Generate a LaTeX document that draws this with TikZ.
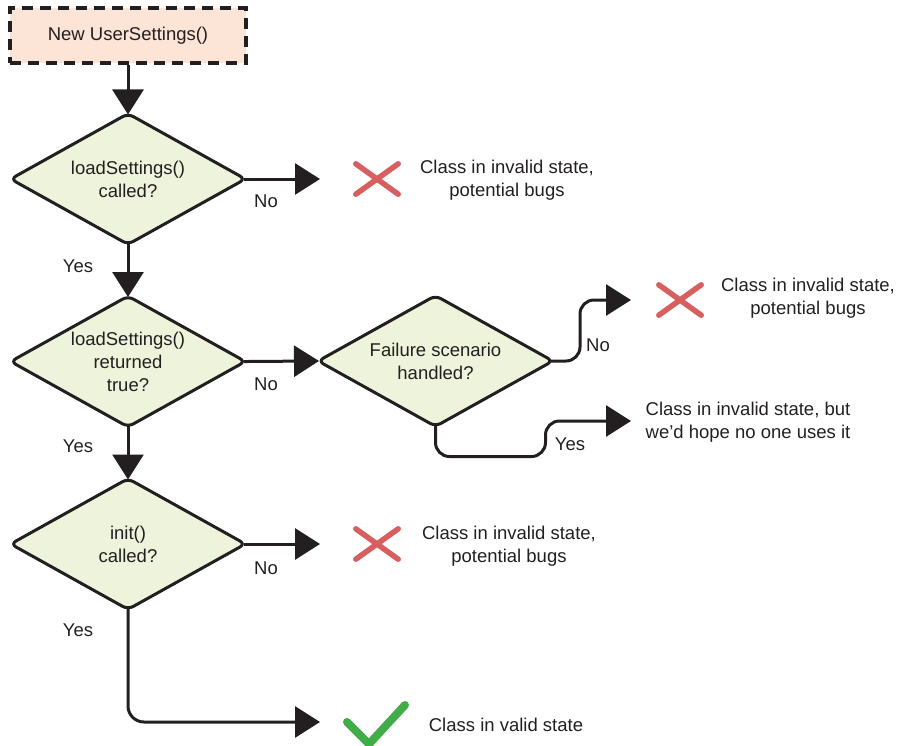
\documentclass[tikz,border=0pt]{standalone}
\usepackage{fontspec}
\setmainfont{Liberation Sans}
\usetikzlibrary{arrows.meta,shapes.geometric}
\definecolor{ink}{HTML}{231F20}
\definecolor{peach}{HTML}{FCE4D6}
\definecolor{leaf}{HTML}{EEF4DB}
\definecolor{crossred}{HTML}{D75F60}
\definecolor{tickgreen}{HTML}{41AD49}
\begin{document}
\begin{tikzpicture}[x=1pt,y=-1pt,
  every node/.style={font=\fontsize{18.5}{23}\selectfont, text=ink},
  flow/.style={draw=ink, line width=3pt, line join=round,
    -{Triangle[length=25pt,width=31pt]}},
  % the rounded vertices sit a little inside the sharp anchors
  fromdia/.style={shorten <=-4pt},
  intodia/.style={shorten >=-3pt},
  startbox/.style={rectangle, draw=ink, fill=peach, line width=3.5pt,
    dash pattern=on 11pt off 7pt, minimum width=236pt, minimum height=55pt,
    inner sep=0pt},
  decision/.style={diamond, draw=ink, fill=leaf, line width=3pt,
    rounded corners=6pt, minimum width=236pt, minimum height=132pt,
    shape aspect=2, inner sep=0pt, align=center},
  lbl/.style={inner sep=0pt},
  note/.style={align=center, inner sep=0pt},
  crossbox/.style={minimum width=42pt, minimum height=30pt, inner sep=0pt},
  crossmark/.style={draw=crossred, line width=5.5pt, line cap=round},
  tickmark/.style={draw=tickgreen, line width=8pt, line cap=round, line join=round}
]
\useasboundingbox (0,0) rectangle (899,745);

% main column
\node[startbox] (s) at (128,35.5) {New UserSettings()};
\node[decision] (d1) at (128,179) {loadSettings()\\called?};
\node[decision] (d2) at (128,361.5) {loadSettings()\\returned\\true?};
\node[decision] (d4) at (128,544) {init()\\called?};
\node[decision] (d3) at (435.5,361) {Failure scenario\\handled?};

% arrow ends
\coordinate (e1) at (320,179);
\coordinate (e3) at (631,300);
\coordinate (e4) at (631,421);
\coordinate (e5) at (320,544);
\coordinate (e6) at (320,722);

% outcome markers
\node[crossbox] (x1) at (377,179) {};
\node[crossbox] (x3) at (680,300) {};
\node[crossbox] (x5) at (377,544) {};
\draw[crossmark] (x1.north west) -- (x1.south east) (x1.north east) -- (x1.south west);
\draw[crossmark] (x3.north west) -- (x3.south east) (x3.north east) -- (x3.south west);
\draw[crossmark] (x5.north west) -- (x5.south east) (x5.north east) -- (x5.south west);
\draw[tickmark] (347,722) -- (369,744) -- (405,705);

% outcome texts
\node[note] (t1) at (507,180) {Class in invalid state,\\potential bugs};
\node[note] (t3) at (808,298) {Class in invalid state,\\potential bugs};
\node[note] (t4) at (748,422) {Class in invalid state, but\\we’d hope no one uses it};
\node[note] (t5) at (509,546) {Class in invalid state,\\potential bugs};
\node[note] (t6) at (506,725) {Class in valid state};

% branch labels
\node[lbl] (n1) at (266,201) {No};
\node[lbl] (y1) at (78,266) {Yes};
\node[lbl] (n2) at (266,384) {No};
\node[lbl] (y2) at (78,446) {Yes};
\node[lbl] (n3) at (598,345) {No};
\node[lbl] (y3) at (570,444) {Yes};
\node[lbl] (n4) at (266,568) {No};
\node[lbl] (y4) at (78,630) {Yes};

% connectors
\draw[flow, intodia] (s) -- (d1);
\draw[flow, fromdia] (d1.east) -- (e1);
\draw[flow, fromdia, intodia] (d1) -- (d2);
\draw[flow, fromdia, intodia] (d2.east) -- (d3.west);
\draw[flow, fromdia, intodia] (d2) -- (d4);
\draw[flow, fromdia] (d4.east) -- (e5);
\draw[flow, fromdia, rounded corners=14pt] (d3.east) -- ++(25,0) |- (e3);
\draw[flow, fromdia, rounded corners=14pt] (d3.south) -- ++(0,28) -- ++(110,0) |- (e4);
\draw[flow, fromdia, rounded corners=16pt] (d4.south) |- (e6);
\end{tikzpicture}
\end{document}
